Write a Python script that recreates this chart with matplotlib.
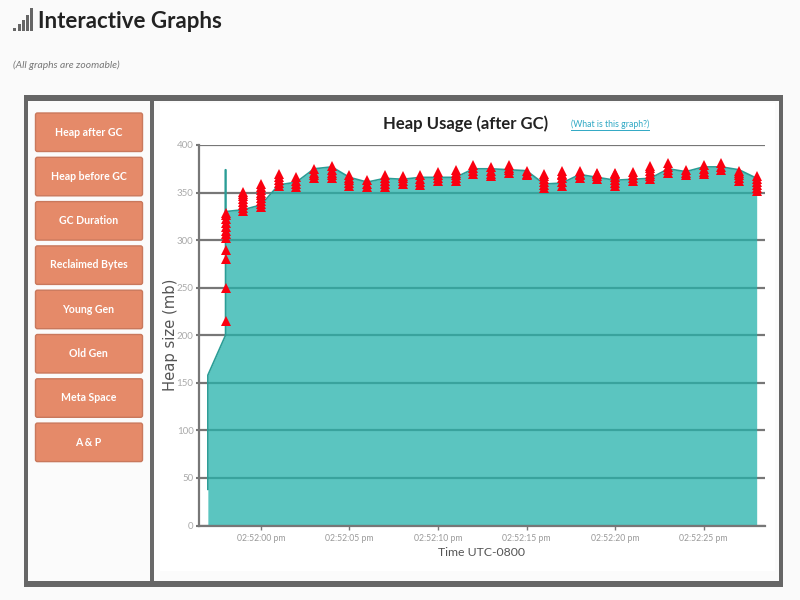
import matplotlib
matplotlib.use("Agg")
import matplotlib.pyplot as plt
from matplotlib.patches import Rectangle, FancyBboxPatch
from matplotlib.ticker import FixedLocator, FixedFormatter

FONT = ['Lato', 'DejaVu Sans']

# ---- data ----
buttons = ["Heap after GC", "Heap before GC", "GC Duration", "Reclaimed Bytes",
           "Young Gen", "Old Gen", "Meta Space", "A & P"]
yticks = [0, 50, 100, 150, 200, 250, 300, 350, 400]
xticks = [0, 5, 10, 15, 20, 25]
xticklabels = ["02:52:00 pm", "02:52:05 pm", "02:52:10 pm", "02:52:15 pm", "02:52:20 pm", "02:52:25 pm"]

area_time = [-3, -3, -2, -2, -2, -1, 0, 1, 2, 3, 4, 5, 6, 7, 8, 9, 10, 11, 12, 13, 14, 15,
             16, 17, 18, 19, 20, 21, 22, 23, 24, 25, 26, 27, 28]
area_heap = [38, 158, 200, 374, 330, 332, 337, 358, 361, 375, 377, 366, 361, 365, 364, 366,
             366, 366, 375, 375, 374, 373, 359, 360, 369, 366, 363, 364, 365, 375, 372,
             377, 377, 374, 365]

gc_seconds = list(range(-2, 29))
gc_stacks = [
    [215, 250, 280, 290, 302, 306, 310, 314, 318, 322, 326, 329],
    [331, 334, 337, 340, 343, 346, 349, 351],
    [335, 338, 341, 344, 347, 350, 353, 356, 359],
    [357, 360, 363, 366, 370],
    [356, 359, 362, 366],
    [365, 368, 371, 375],
    [365, 368, 371, 374, 378],
    [357, 360, 363, 365, 368],
    [356, 359, 363],
    [356, 359, 362, 365, 368],
    [359, 362, 365, 367],
    [358, 361, 364, 368],
    [362, 365, 368, 372],
    [362, 365, 368, 371, 374],
    [370, 373, 376, 379],
    [367, 370, 373, 377],
    [371, 374, 376, 379],
    [368, 370, 373],
    [355, 358, 361, 364, 367, 369],
    [357, 361, 365, 368, 370, 373],
    [365, 368, 370, 373],
    [364, 367, 369, 371],
    [357, 360, 363, 366, 369, 371],
    [362, 365, 368, 372],
    [364, 367, 370, 373, 376, 378],
    [371, 374, 377, 381],
    [368, 371, 374],
    [369, 372, 375, 379],
    [374, 377, 381],
    [362, 365, 368, 371, 373],
    [352, 355, 358, 361, 364, 367],
]

# ---- page chrome in pixel coordinates ----
fig = plt.figure(figsize=(8, 6), dpi=100, facecolor="#fafafa")
bg = fig.add_axes([0, 0, 1, 1])
bg.set_xlim(0, 800)
bg.set_ylim(600, 0)
bg.axis("off")

for x, top in zip([13, 17.5, 21.7, 26, 30], [28, 24, 20, 15, 8]):
    bg.add_patch(Rectangle((x, top), 3, 31 - top, color="#666666", lw=0))
bg.text(38, 21, "Interactive Graphs", fontsize=16, color="#222222", va="center",
        ha="left", family=FONT, fontweight="bold")
bg.text(13, 65, "(All graphs are zoomable)", fontsize=7.4, color="#777777", va="center",
        family=FONT, style="italic")

bg.add_patch(Rectangle((24, 94.5), 759, 492.5, fc="#666666", lw=0))
bg.add_patch(Rectangle((28, 100.5), 751, 480, fc="#fbfbfb", lw=0))
bg.add_patch(Rectangle((150, 100), 4, 481, fc="#666666", lw=0))
bg.add_patch(Rectangle((160, 103), 615, 468, fc="white", lw=0))

for i, label in enumerate(buttons):
    top = 113 + i * 44.3
    bg.add_patch(FancyBboxPatch((35.5, top), 107, 38.5, boxstyle="round,pad=0,rounding_size=2",
                                fc="#e58a69", ec="#c9785c", lw=1))
    bg.text(88.5, top + 19, label, fontsize=7.6, color="white", fontweight="bold",
            ha="center", va="center", family=FONT)

bg.text(466, 124, "Heap Usage (after GC)", fontsize=12, color="#222222", ha="center",
        va="center", family=FONT, fontweight="bold")
bg.text(610, 124, "(What is this graph?)", fontsize=6.3, color="#2fa8c4", ha="center",
        va="center", family=FONT)
bg.plot([571, 649], [129.5, 129.5], color="#2fa8c4", lw=0.7)
bg.text(170, 335, "Heap size (mb)", fontsize=10.6, color="#555555", rotation=90,
        ha="center", va="center", family="DejaVu Sans")
bg.text(482, 553, "Time UTC-0800", fontsize=8.8, color="#555555", ha="center", va="center",
        family=FONT)

# ---- chart ----
ax = fig.add_axes([199 / 800, 1 - 525.5 / 600, 566 / 800, 380.5 / 600])
ax.patch.set_alpha(0)
ax.set_xlim(-3.5, 28.47)
ax.set_ylim(0, 400)
for s in ("top", "right"):
    ax.spines[s].set_visible(False)
for s in ("left", "bottom"):
    ax.spines[s].set_color("#777777")
    ax.spines[s].set_linewidth(1.6)
ax.yaxis.set_major_locator(FixedLocator(yticks))
ax.xaxis.set_major_locator(FixedLocator(xticks))
ax.xaxis.set_major_formatter(FixedFormatter(xticklabels))
ax.tick_params(axis="y", length=2, width=1.5, color="#777777", labelcolor="#aaaaaa",
               labelsize=7, pad=2)
ax.tick_params(axis="x", length=3, width=1, color="#777777", labelcolor="#999999",
               labelsize=6.2, pad=3)
for lab in ax.get_xticklabels() + ax.get_yticklabels():
    lab.set_family(FONT)
ax.grid(axis="y", color="#777777", lw=1.6, zorder=1)
ax.set_axisbelow(True)

ax.fill_between(area_time, 0, area_heap, color="#24b2ab", alpha=0.75, lw=0, zorder=2)
ax.plot(area_time, area_heap, color="#2a9d96", lw=1.2, zorder=3)
for sec, stack in zip(gc_seconds, gc_stacks):
    ax.plot([sec] * len(stack), stack, ls="none", marker="^", ms=7.2, mfc="#fa0010",
            mec="#fa0010", mew=0, zorder=4, clip_on=False)

fig.savefig("out.png", dpi=100, facecolor=fig.get_facecolor())
